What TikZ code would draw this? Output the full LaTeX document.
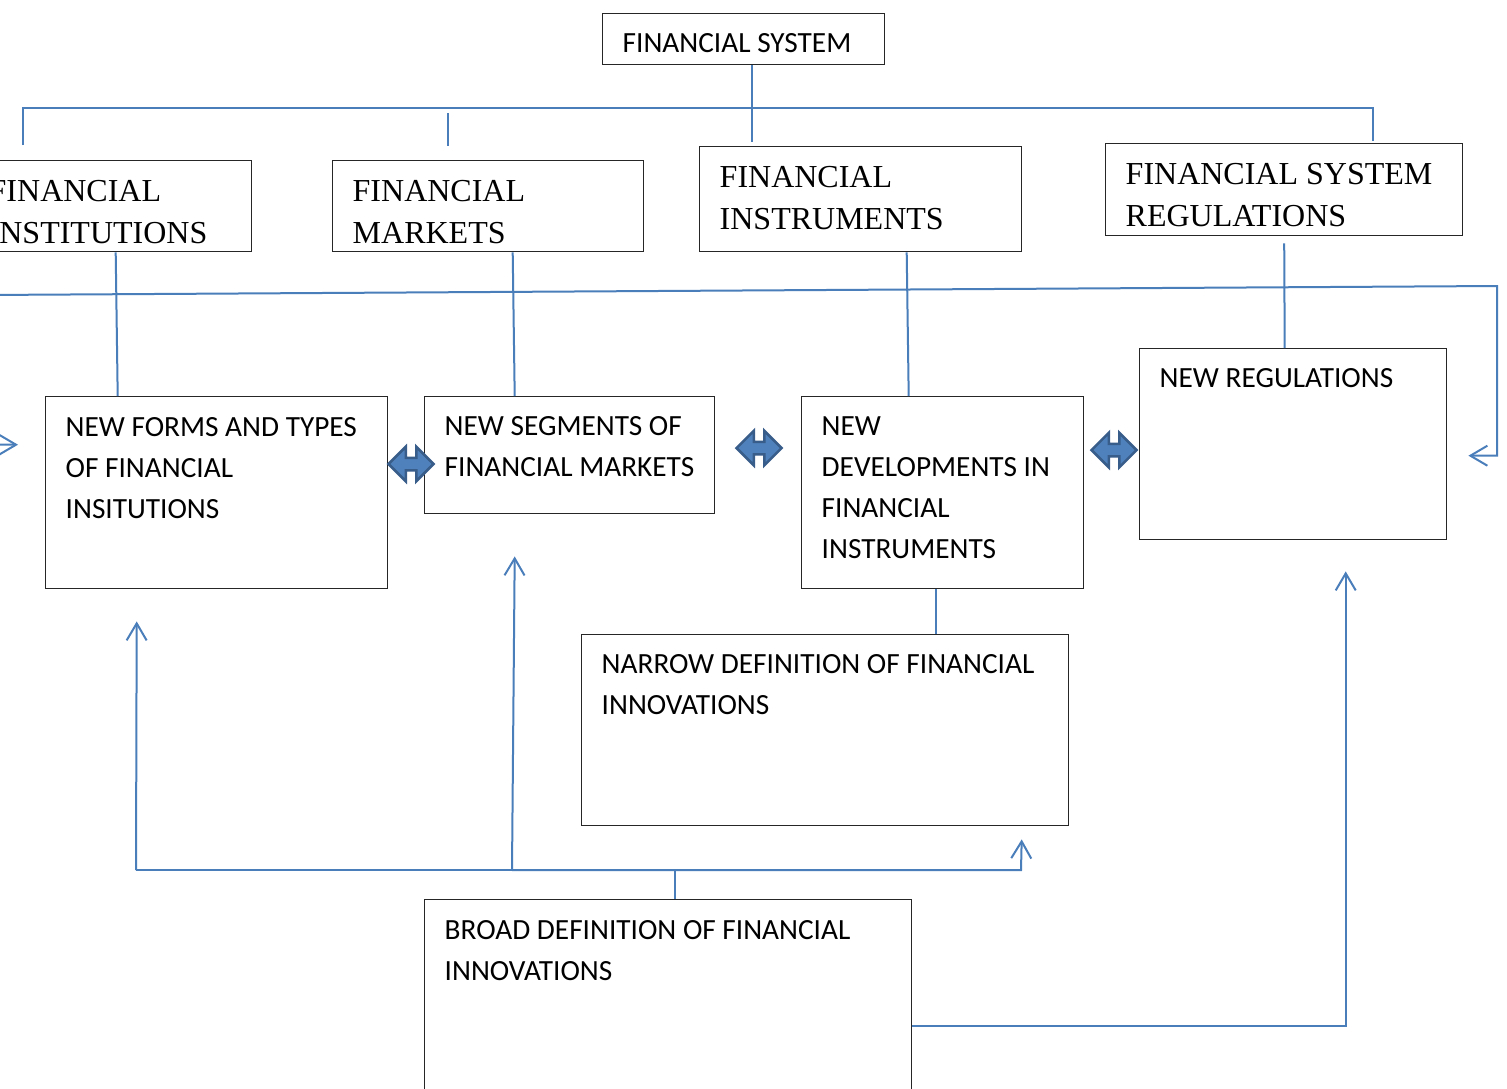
\documentclass[tikz,border=0pt]{standalone}
\usepackage{fontspec}
\newfontfamily\calibri{Carlito}
\newfontfamily\timesfont{Liberation Serif}
\usetikzlibrary{arrows.meta, shapes.arrows}
\definecolor{linkblue}{RGB}{74,126,187}
\definecolor{arrowfill}{RGB}{79,129,189}
\definecolor{arrowdark}{RGB}{56,93,138}
\tikzset{
  box/.style={draw=black!85, line width=1.4pt, anchor=north west, align=justify, inner xsep=20pt, inner ysep=0pt},
  sbox/.style={box, font=\calibri\fontsize{29.3}{41}\selectfont},
  tbox/.style={box, font=\timesfont\fontsize{32}{42}\selectfont},
  link/.style={draw=linkblue, line width=2pt},
  up/.style={link, -{Straight Barb[length=17pt, width=20pt]}},
  lr/.style={double arrow, draw=arrowdark, fill=arrowfill, line width=2.5pt, minimum height=45pt, inner sep=5pt, double arrow head extend=11pt}
}

\begin{document}
\begin{tikzpicture}[x=1pt, y=-1pt]
      \path[use as bounding box, fill=white] (0,0) rectangle (1507,1088);

      % nodes %
      \node[sbox, text width=242pt, text height=39pt, text depth=12pt] (sys) at (602,13) {FINANCIAL SYSTEM};
      \node[tbox, text width=243pt, text height=41pt, text depth=50pt] (inst) at (-32,160) {FINANCIAL\\INSTITUTIONS};
      \node[tbox, text width=271pt, text height=41pt, text depth=50pt] (mkts) at (332,160) {FINANCIAL\\MARKETS};
      \node[tbox, text width=282pt, text height=41pt, text depth=64pt] (instr) at (699,146) {FINANCIAL\\INSTRUMENTS};
      \node[tbox, text width=317pt, text height=41pt, text depth=51pt] (regs) at (1105,143) {FINANCIAL SYSTEM\\REGULATIONS};

      \node[sbox, text width=302pt, text height=40pt, text depth=152pt] (forms) at (45,396) {NEW FORMS AND TYPES\\OF FINANCIAL\\INSITUTIONS};
      \node[sbox, text width=250pt, text height=39pt, text depth=78pt] (segs) at (424,396) {NEW SEGMENTS OF\\FINANCIAL MARKETS};
      \node[sbox, text width=242pt, text height=39pt, text depth=153pt] (devs) at (801,396) {NEW\\DEVELOPMENTS IN\\FINANCIAL\\INSTRUMENTS};
      \node[sbox, text width=267pt, text height=39pt, text depth=152pt] (newregs) at (1139,348) {NEW REGULATIONS};
      \node[sbox, text width=447pt, text height=39pt, text depth=152pt] (narrow) at (581,634) {NARROW DEFINITION OF FINANCIAL\\INNOVATIONS};
      \node[sbox, text width=447pt, text height=40pt, text depth=200pt] (broad) at (424,899) {BROAD DEFINITION OF FINANCIAL\\INNOVATIONS};

      \node[lr] (lr1) at (411,464) {};
      \node[lr] (lr2) at (759,448) {};
      \node[lr] (lr3) at (1114,450) {};

      \coordinate (busL) at (23,108);
      \coordinate (busR) at (1373,108);
      \coordinate (loopL) at (-15,295);
      \coordinate (loopR) at (1497,286);
      \coordinate (botL) at (136,870);
      \coordinate (botM) at (512,870);
      \coordinate (botR) at (1021,870);

      % edges %
      \draw[link] ([xshift=8pt]sys.south) -- ++(0,77);
      \draw[link] ([yshift=-37pt]busL) -- (busL) -- (busR) -- ([yshift=-33pt]busR);
      \draw[link] (448,113) -- (448,146);

      \draw[link] ([xshift=5.5pt]inst.south) -- ([xshift=-99pt]forms.north);
      \draw[link] ([xshift=24.5pt]mkts.south) -- ([xshift=-55pt]segs.north);
      \draw[link] ([xshift=46pt]instr.south) -- ([xshift=-34pt]devs.north);
      \draw[link] ([yshift=-7pt]regs.south) -- ([xshift=-8.5pt]newregs.north);
      \draw[link] ([xshift=-7pt]devs.south) -- ([xshift=110.5pt]narrow.north);

      \draw[link, {Straight Barb[length=17pt, width=20pt]}-{Straight Barb[length=17pt, width=20pt]}]
        ([xshift=-27pt, yshift=48pt]forms.west) -- ++(-33,0) -- (loopL) -- (loopR)
        |- ([xshift=21pt, yshift=-11.5pt]newregs.east);

      \draw[link] ([xshift=6.5pt]broad.north) -- ++(0,-29);
      \draw[link] (botL) -- (botM);
      \draw[up] (botL) -- ([xshift=-80pt, yshift=-32pt]forms.south);
      \draw[up] (botM) -- ([xshift=-55pt, yshift=-42pt]segs.south);
      \draw[up] (botM) -- (botR) -- ([xshift=196.5pt, yshift=-13pt]narrow.south);
      \draw[up] ([yshift=-6pt]broad.east) -| ([xshift=52.5pt, yshift=-31pt]newregs.south);
\end{tikzpicture}
\end{document}
